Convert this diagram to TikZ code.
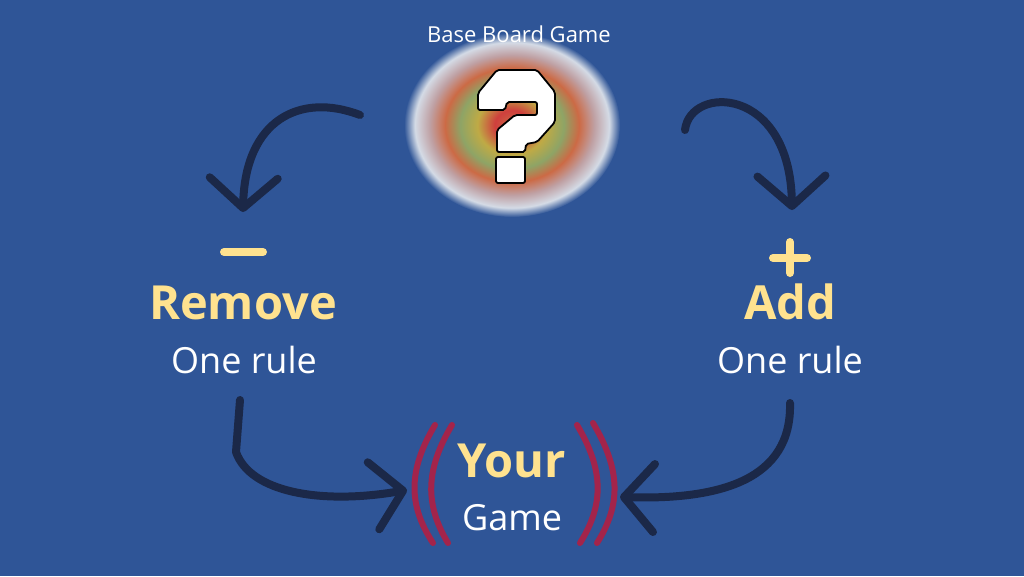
\documentclass[tikz,border=0pt]{standalone}
\usepackage{fontspec}
\setmainfont{Open Sans}
\usetikzlibrary{arrows.meta}

\definecolor{bgblue}{HTML}{2F5597}
\definecolor{gold}{HTML}{FFE28F}
\definecolor{ink}{HTML}{1B2848}
\definecolor{wine}{HTML}{A3244B}
\definecolor{swRed}{HTML}{CF3F3D}
\definecolor{swYellow}{HTML}{BFAA45}
\definecolor{swGreen}{HTML}{8EA466}
\definecolor{swOrange}{HTML}{CC6A45}
\definecolor{swGrey}{HTML}{BFA0A3}
\definecolor{swPale}{HTML}{D4DBE6}

\pgfdeclareradialshading{swirl}{\pgfpoint{0bp}{0bp}}{%
  color(0bp)=(swOrange); color(4bp)=(swRed); color(8bp)=(swYellow);
  color(12bp)=(swGreen); color(15.5bp)=(swOrange); color(19bp)=(swGrey);
  color(22.5bp)=(swPale); color(25bp)=(bgblue)}

\begin{document}
\begin{tikzpicture}[x=1pt,y=-1pt,
  hand/.style={draw=ink, line width=8pt, line cap=round, line join=round,
    -{Straight Barb[length=30pt,width=68pt,round]}},
  paren/.style={draw=wine, line width=6pt, line cap=round},
  sign/.style={draw=gold, line width=8pt, line cap=round},
  qmark/.style={fill=white, draw=black, line width=1.8pt, rounded corners=2pt},
  big/.style={anchor=base, text=gold, font=\bfseries\fontsize{47}{47}\selectfont},
  small/.style={anchor=base, text=white, font=\fontsize{36}{36}\selectfont}]
\fill[bgblue] (0,0) rectangle (1024,576);
\useasboundingbox (0,0) rectangle (1024,576);

% base game picture
\shade[shading=swirl] (512,125) ellipse [x radius=108pt, y radius=92pt];
\draw[qmark] (478,93) -- (497,70) -- (537,70) -- (555,92) -- (555,122) -- (537,142)
  -- (526,144) -- (525,152) -- (497,152) -- (497,130) -- (515,115) -- (537,115)
  -- (537,102) -- (507,102) -- (505,110) -- (478,110) -- cycle;
\draw[qmark] (496,157) rectangle (525,183);
\node[anchor=base, text=white, font=\fontsize{22}{22}\selectfont] (title) at (519,42) {Base Board Game};

% labels
\draw[sign] (224,252) -- (263,252);
\node[big] (remove) at (243,319) {Remove};
\node[small] (ruleL) at (244,373) {One rule};
\draw[sign] (773,258) -- (807,258) (790,242) -- (790,273);
\node[big] (add) at (790,319) {Add};
\node[small] (ruleR) at (790,373) {One rule};
\node[big] (your) at (512,477) {Your};
\node[small] (game) at (512,530) {Game};

% brackets
\draw[paren] (435,425) .. controls (408,470) and (408,505) .. (433,543);
\draw[paren] (452,425) .. controls (425,470) and (425,505) .. (448,543);
\draw[paren] (577,425) .. controls (604,470) and (604,505) .. (580,543);
\draw[paren] (593,423) .. controls (621,470) and (621,505) .. (597,543);

% arrows
\coordinate (outL) at (360,115);
\coordinate (inL) at (243,212);
\coordinate (outR) at (685,130);
\coordinate (inR) at (792,210);
\coordinate (fromL) at (240,400);
\coordinate (toL) at (407,490);
\coordinate (fromR) at (790,403);
\coordinate (toR) at (620,497);
\draw[hand] (outL) .. controls (300,92) and (245,120) .. (inL);
\draw[hand] (outR) .. controls (690,85) and (790,85) .. (inR);
\draw[hand] (fromL) -- (236,452) .. controls (250,492) and (320,505) .. (toL);
\draw[hand] (fromR) .. controls (792,480) and (720,500) .. (toR);
\end{tikzpicture}
\end{document}
